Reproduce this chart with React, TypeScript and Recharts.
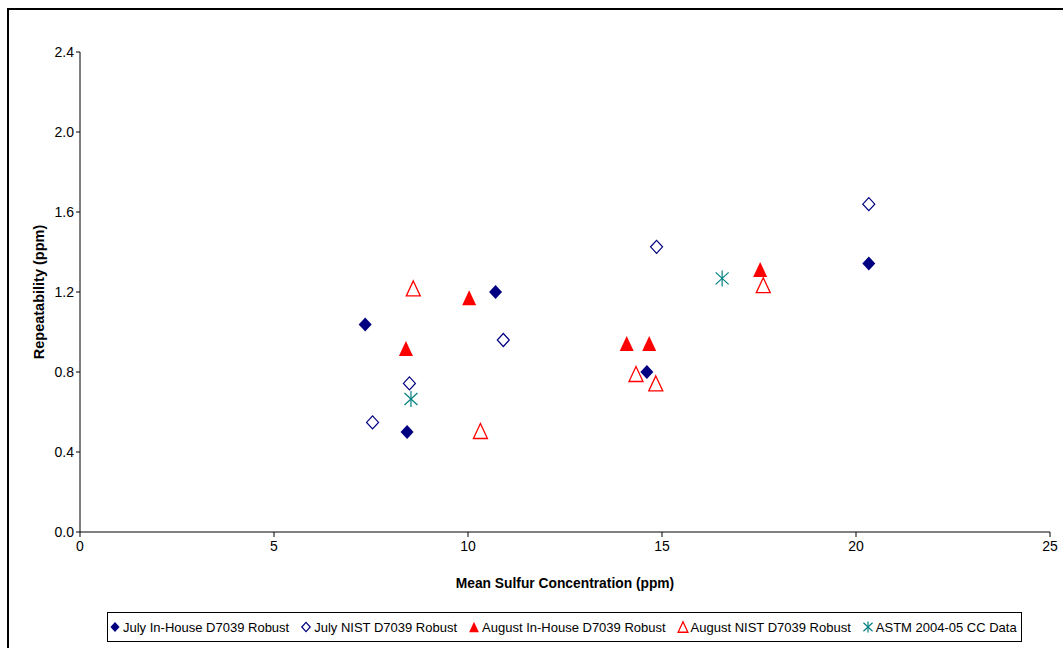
import { Label, Scatter, ScatterChart, XAxis, YAxis } from "recharts";

const julyInHouseX = [7.35, 8.43, 10.71, 14.61, 20.33];
const julyInHouseY = [1.038, 0.5, 1.2, 0.8, 1.343];
const julyNistX = [7.54, 8.49, 10.91, 14.86, 20.33];
const julyNistY = [0.548, 0.743, 0.96, 1.426, 1.639];
const augInHouseX = [8.4, 10.03, 14.09, 14.67, 17.53];
const augInHouseY = [0.918, 1.171, 0.943, 0.943, 1.313];
const augNistX = [8.59, 10.32, 14.33, 14.84, 17.61];
const augNistY = [1.218, 0.505, 0.79, 0.743, 1.234];
const astmX = [8.53, 16.55];
const astmY = [0.665, 1.268];

const xTicks = [0, 5, 10, 15, 20, 25];
const yTicks = [0, 0.4, 0.8, 1.2, 1.6, 2.0, 2.4];

const NAVY = "#000080";
const RED = "#FF0000";
const TEAL = "#008080";
const FONT = "'Liberation Sans', Arial, sans-serif";

const pts = (xs: number[], ys: number[]) => xs.map((x, i) => ({ x, y: ys[i] }));

type Kind = "diamond" | "openDiamond" | "triangle" | "openTriangle" | "star";

function Marker({ kind, cx, cy, s = 1 }: { kind: Kind; cx: number; cy: number; s?: number }) {
  if (kind === "diamond" || kind === "openDiamond") {
    const w = (kind === "diamond" ? 6.5 : 6) * s;
    const h = (kind === "diamond" ? 7 : 6.5) * s;
    const d = `M${cx},${cy - h}L${cx + w},${cy}L${cx},${cy + h}L${cx - w},${cy}Z`;
    return kind === "diamond" ? (
      <path d={d} fill={NAVY} />
    ) : (
      <path d={d} fill="#fff" stroke={NAVY} strokeWidth={1.2} />
    );
  }
  if (kind === "triangle" || kind === "openTriangle") {
    const w = 7 * s;
    const h = 7.5 * s;
    const d = `M${cx},${cy - h}L${cx + w},${cy + h}L${cx - w},${cy + h}Z`;
    return kind === "triangle" ? (
      <path d={d} fill={RED} />
    ) : (
      <path d={d} fill="none" stroke={RED} strokeWidth={1.3} />
    );
  }
  const a = 6.5 * s;
  const b = 8 * s;
  return (
    <g stroke={TEAL} strokeWidth={1.2}>
      <line x1={cx} y1={cy - b} x2={cx} y2={cy + b} />
      <line x1={cx - a} y1={cy - b * 0.75} x2={cx + a} y2={cy + b * 0.75} />
      <line x1={cx - a} y1={cy + b * 0.75} x2={cx + a} y2={cy - b * 0.75} />
    </g>
  );
}

const shape = (kind: Kind) => (p: any) => <Marker kind={kind} cx={p.cx} cy={p.cy} />;

const series: { name: string; kind: Kind; data: { x: number; y: number }[] }[] = [
  { name: "July In-House D7039 Robust", kind: "diamond", data: pts(julyInHouseX, julyInHouseY) },
  { name: "July NIST D7039 Robust", kind: "openDiamond", data: pts(julyNistX, julyNistY) },
  { name: "August In-House D7039 Robust", kind: "triangle", data: pts(augInHouseX, augInHouseY) },
  { name: "August NIST D7039 Robust", kind: "openTriangle", data: pts(augNistX, augNistY) },
  { name: "ASTM 2004-05 CC Data", kind: "star", data: pts(astmX, astmY) },
];

function YTitle({ viewBox }: any) {
  const cy = viewBox.y + viewBox.height / 2;
  return (
    <text
      x={39}
      y={cy}
      transform={`rotate(-90 39 ${cy})`}
      textAnchor="middle"
      dominantBaseline="central"
      fontFamily={FONT}
      fontSize={14.5}
      fontWeight="bold"
      fill="#000"
    >
      Repeatability (ppm)
    </text>
  );
}

function XTitle({ viewBox }: any) {
  return (
    <text
      x={viewBox.x + viewBox.width / 2}
      y={588}
      textAnchor="middle"
      fontFamily={FONT}
      fontSize={13.8}
      fontWeight="bold"
      fill="#000"
    >
      Mean Sulfur Concentration (ppm)
    </text>
  );
}

export default function App() {
  const tick = { fontFamily: FONT, fontSize: 14, fill: "#000" };
  return (
    <div
      style={{
        position: "fixed",
        left: 0,
        top: 0,
        width: 1063,
        height: 648,
        overflow: "hidden",
        background: "#fff",
        fontFamily: FONT,
      }}
    >
      <div
        style={{
          position: "absolute",
          left: 7,
          top: 8,
          width: 1200,
          height: 800,
          borderTop: "2px solid #000",
          borderLeft: "2px solid #000",
        }}
      />
      <div style={{ position: "absolute", left: 0, top: 0 }}>
        <ScatterChart width={1063} height={648} margin={{ top: 52, right: 13, bottom: 86, left: 0 }}>
          <XAxis
            type="number"
            dataKey="x"
            domain={[0, 25]}
            ticks={xTicks}
            height={30}
            tick={tick}
            tickSize={5}
            tickMargin={4}
            axisLine={{ stroke: "#808080", strokeWidth: 2 }}
            tickLine={{ stroke: "#000" }}
          >
            <Label content={XTitle} />
          </XAxis>
          <YAxis
            type="number"
            dataKey="y"
            domain={[0, 2.4]}
            ticks={yTicks}
            width={80}
            tick={tick}
            tickSize={4}
            tickMargin={2}
            tickFormatter={(v: number) => v.toFixed(1)}
            axisLine={{ stroke: "#000" }}
            tickLine={{ stroke: "#000" }}
          >
            <Label content={YTitle} />
          </YAxis>
          {series.map((s) => (
            <Scatter
              key={s.name}
              name={s.name}
              data={s.data}
              shape={shape(s.kind)}
              isAnimationActive={false}
            />
          ))}
        </ScatterChart>
      </div>
      <div
        style={{
          position: "absolute",
          left: 107,
          top: 612,
          width: 915,
          height: 30,
          boxSizing: "border-box",
          border: "1px solid #000",
          display: "flex",
          alignItems: "center",
          paddingLeft: 1,
          fontSize: 13,
          whiteSpace: "nowrap",
          color: "#000",
        }}
      >
        {series.map((s) => (
          <div key={s.name} style={{ display: "flex", alignItems: "center", marginRight: 11 }}>
            <svg width={12} height={16} style={{ marginRight: 2 }}>
              <Marker kind={s.kind} cx={6} cy={8} s={0.7} />
            </svg>
            <span>{s.name}</span>
          </div>
        ))}
      </div>
    </div>
  );
}
